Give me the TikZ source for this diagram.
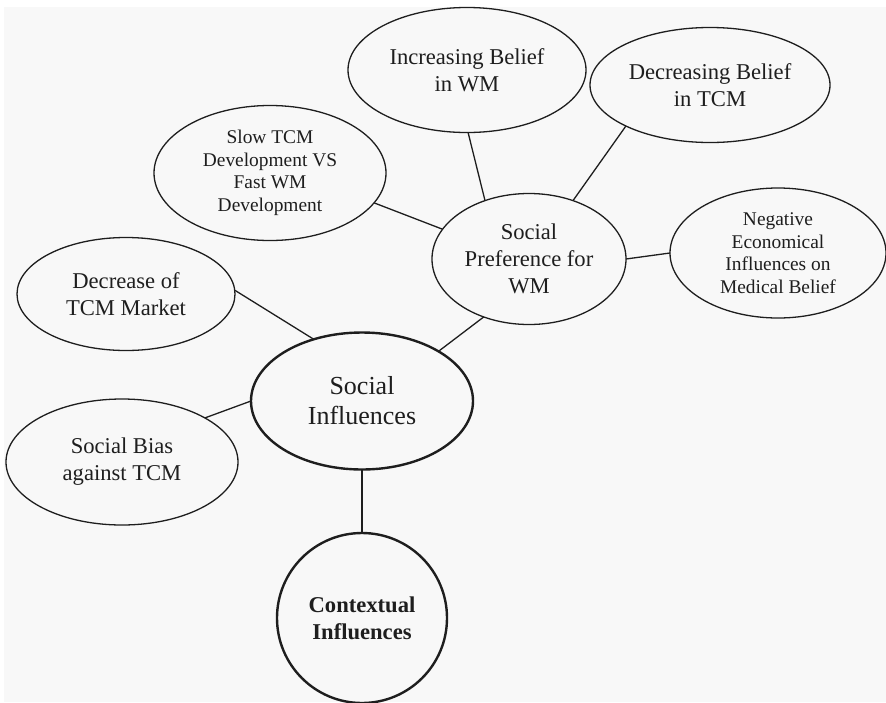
\documentclass[tikz,border=0pt]{standalone}
\usepackage{fontspec}
\setmainfont{Liberation Serif}
\usetikzlibrary{shapes.geometric}
\definecolor{paper}{HTML}{F8F8F8}
\definecolor{ink}{HTML}{1E1E1E}
\begin{document}
\begin{tikzpicture}[x=1pt,y=-1pt,
  bubble/.style={ellipse, draw=ink, line width=1.3pt, inner sep=0pt, outer sep=0pt,
    align=center, text=ink, font=\fontsize{22.6}{27}\selectfont},
  smallbubble/.style={bubble, font=\fontsize{19.4}{22.5}\selectfont},
  hub/.style={bubble, line width=2.4pt, font=\fontsize{26}{30}\selectfont},
  root/.style={circle, draw=ink, line width=2.4pt, inner sep=0pt, outer sep=0pt,
    align=center, text=ink, font=\fontsize{22.6}{27}\selectfont\bfseries},
  link/.style={draw=ink, line width=1.3pt}]
% canvas
\fill[white] (0,0) rectangle (886,702);
\fill[paper] (4,7) rectangle (886,702);
\useasboundingbox (0,0) rectangle (886,702);

% nodes
\node[bubble, minimum width=238pt, minimum height=125pt] (inc) at (467,70) {Increasing Belief\\in WM};
\node[bubble, minimum width=240pt, minimum height=115pt] (dec) at (710,85) {Decreasing Belief\\in TCM};
\node[smallbubble, minimum width=232pt, minimum height=135pt] (slow) at (270,173) {Slow TCM\\Development VS\\Fast WM\\Development};
\node[bubble, minimum width=194pt, minimum height=131pt] (sp) at (529,259) {Social\\Preference for\\WM};
\node[smallbubble, minimum width=216pt, minimum height=130pt] (neg) at (778,253) {Negative\\Economical\\Influences on\\Medical Belief};
\node[bubble, minimum width=218pt, minimum height=113pt] (dtm) at (126,294) {Decrease of\\TCM Market};
\node[hub, minimum width=222pt, minimum height=137pt] (si) at (362,401) {Social\\Influences};
\node[bubble, minimum width=232pt, minimum height=126pt] (sb) at (122,462) {Social Bias\\against TCM};
\node[root, minimum size=170pt] (ctx) at (362,618) {Contextual\\Influences};

% connectors
\draw[link] (inc.-89) -- (sp.127);
\draw[link] (dec.206) -- (sp.53);
\draw[link] (slow.-16) -- (sp.161);
\draw[link] (sp.0) -- (neg.180);
\draw[link] (sp.232) -- (si.33);
\draw[link] (dtm.2) -- (si.128);
\draw[link] (sb.28) -- (si.180);
\draw[link] (si.-90) -- (ctx.90);
\end{tikzpicture}
\end{document}
